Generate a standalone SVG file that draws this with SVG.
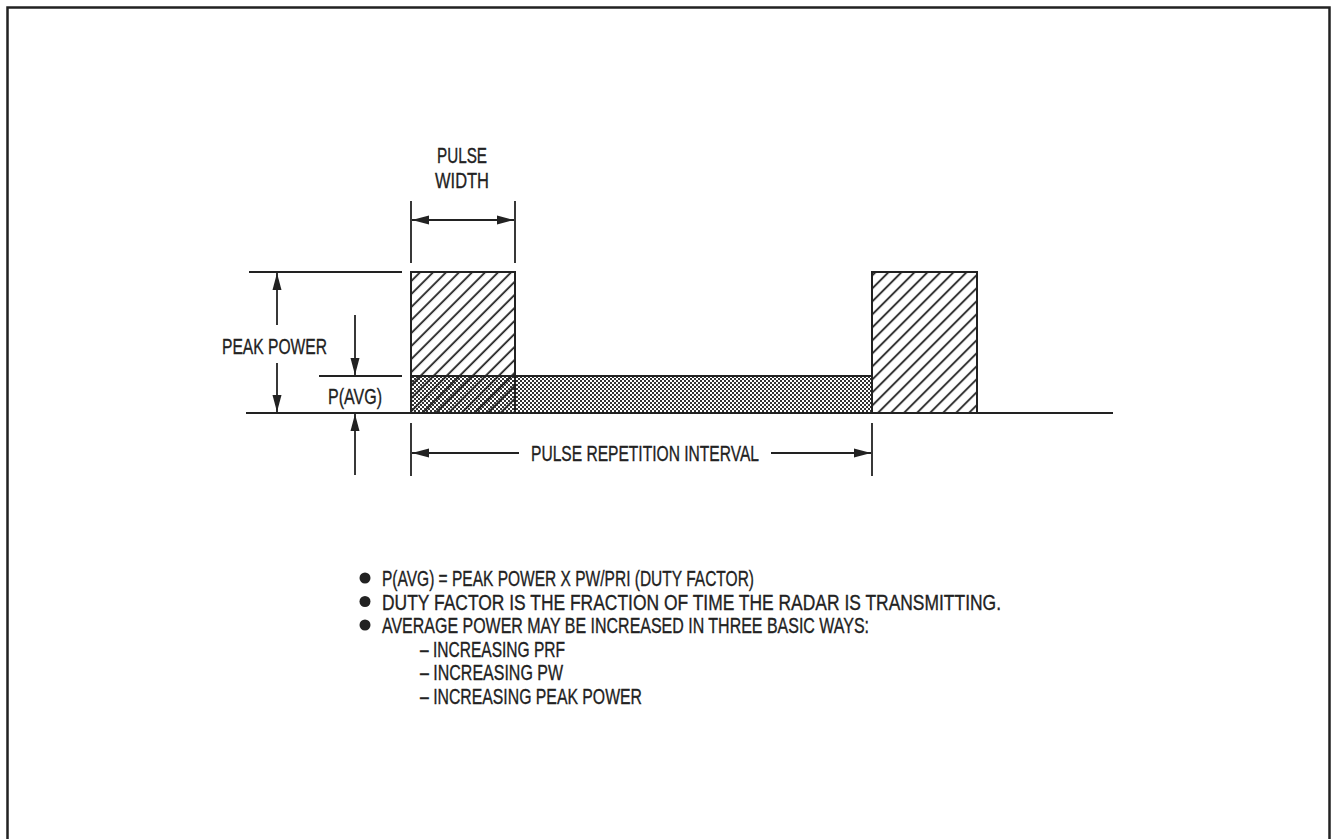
<svg xmlns="http://www.w3.org/2000/svg" width="1331" height="839" viewBox="0 0 1331 839">
<style>
.ln{stroke:#222;stroke-width:1.8;fill:none}
.bx{stroke:#222;stroke-width:2;}
.ar{stroke:#222;stroke-width:1.8;fill:none;marker-end:url(#ah)}
.t{font-family:"Liberation Sans",Arial,sans-serif;font-size:22.5px;fill:#222;stroke:#222;stroke-width:0.35}
</style>
<defs>
<marker id="ah" markerUnits="userSpaceOnUse" markerWidth="18" markerHeight="10" refX="17" refY="4.5" orient="auto-start-reverse" viewBox="0 0 18 9">
<path d="M0,0 L17,4.5 L0,9 Z" fill="#222"/>
</marker>
<pattern id="hatch" patternUnits="userSpaceOnUse" width="9.2" height="20" patternTransform="rotate(45)">
<line x1="2" y1="0" x2="2" y2="20" stroke="#222" stroke-width="1.8"/>
</pattern>
<pattern id="dots" patternUnits="userSpaceOnUse" width="4" height="4">
<rect x="0" y="0" width="2" height="2" fill="#333"/>
<rect x="2" y="2" width="2" height="2" fill="#333"/>
</pattern>
</defs>
<rect width="1331" height="839" fill="#fff"/>
<path d="M7.5,839 V7.5 H1329.5 V839" fill="none" stroke="#222" stroke-width="2.5"/>

<g id="average-band">
<rect x="411" y="376" width="461" height="37" fill="url(#dots)"/>
<rect x="411" y="376" width="461" height="37" class="bx" fill="none"/>
</g>
<g id="pulse-1">
<rect x="411" y="272" width="104" height="141" fill="url(#hatch)"/>
<rect x="411" y="272" width="104" height="141" class="bx" fill="none"/>
</g>
<g id="pulse-2">
<rect x="872" y="272" width="105" height="141" fill="url(#hatch)"/>
<rect x="872" y="272" width="105" height="141" class="bx" fill="none"/>
</g>
<g id="baseline">
<line x1="246" y1="413" x2="1113" y2="413" class="ln"/>
</g>

<g id="connectors">
<line x1="249" y1="272" x2="402" y2="272" class="ln"/>
<line x1="319" y1="376" x2="402" y2="376" class="ln"/>
<line x1="277" y1="325" x2="277" y2="273" class="ar"/>
<line x1="277" y1="363" x2="277" y2="412" class="ar"/>
<line x1="355" y1="315" x2="355" y2="375" class="ar"/>
<line x1="355" y1="475" x2="355" y2="414" class="ar"/>
<line x1="411" y1="201" x2="411" y2="263" class="ln"/>
<line x1="515" y1="201" x2="515" y2="263" class="ln"/>
<line x1="412" y1="220" x2="514" y2="220" class="ar" style="marker-start:url(#ah)"/>
<line x1="411" y1="423" x2="411" y2="476" class="ln"/>
<line x1="872" y1="423" x2="872" y2="476" class="ln"/>
<line x1="519" y1="453" x2="412" y2="453" class="ar"/>
<line x1="771" y1="453" x2="871" y2="453" class="ar"/>
</g>

<g id="labels">
<text class="t" x="222" y="354" textLength="105" lengthAdjust="spacingAndGlyphs">PEAK POWER</text>
<text class="t" x="328" y="404" textLength="54" lengthAdjust="spacingAndGlyphs">P(AVG)</text>
<text class="t" x="437" y="163" textLength="50" lengthAdjust="spacingAndGlyphs">PULSE</text>
<text class="t" x="435" y="188" textLength="54" lengthAdjust="spacingAndGlyphs">WIDTH</text>
<text class="t" x="531" y="461" textLength="228" lengthAdjust="spacingAndGlyphs">PULSE REPETITION INTERVAL</text>
</g>

<g id="notes">
<circle cx="365" cy="578" r="5.5" fill="#222"/>
<circle cx="365" cy="601.5" r="5.5" fill="#222"/>
<circle cx="365" cy="625" r="5.5" fill="#222"/>
<text class="t" x="382" y="586" textLength="372" lengthAdjust="spacingAndGlyphs">P(AVG) = PEAK POWER X PW/PRI (DUTY FACTOR)</text>
<text class="t" x="382" y="609.5" textLength="619" lengthAdjust="spacingAndGlyphs">DUTY FACTOR IS THE FRACTION OF TIME THE RADAR IS TRANSMITTING.</text>
<text class="t" x="382" y="633" textLength="487" lengthAdjust="spacingAndGlyphs">AVERAGE POWER MAY BE INCREASED IN THREE BASIC WAYS:</text>
<text class="t" x="420" y="656.5" textLength="145" lengthAdjust="spacingAndGlyphs">– INCREASING PRF</text>
<text class="t" x="420" y="680" textLength="143" lengthAdjust="spacingAndGlyphs">– INCREASING PW</text>
<text class="t" x="420" y="703.5" textLength="222" lengthAdjust="spacingAndGlyphs">– INCREASING PEAK POWER</text>
</g>
</svg>
